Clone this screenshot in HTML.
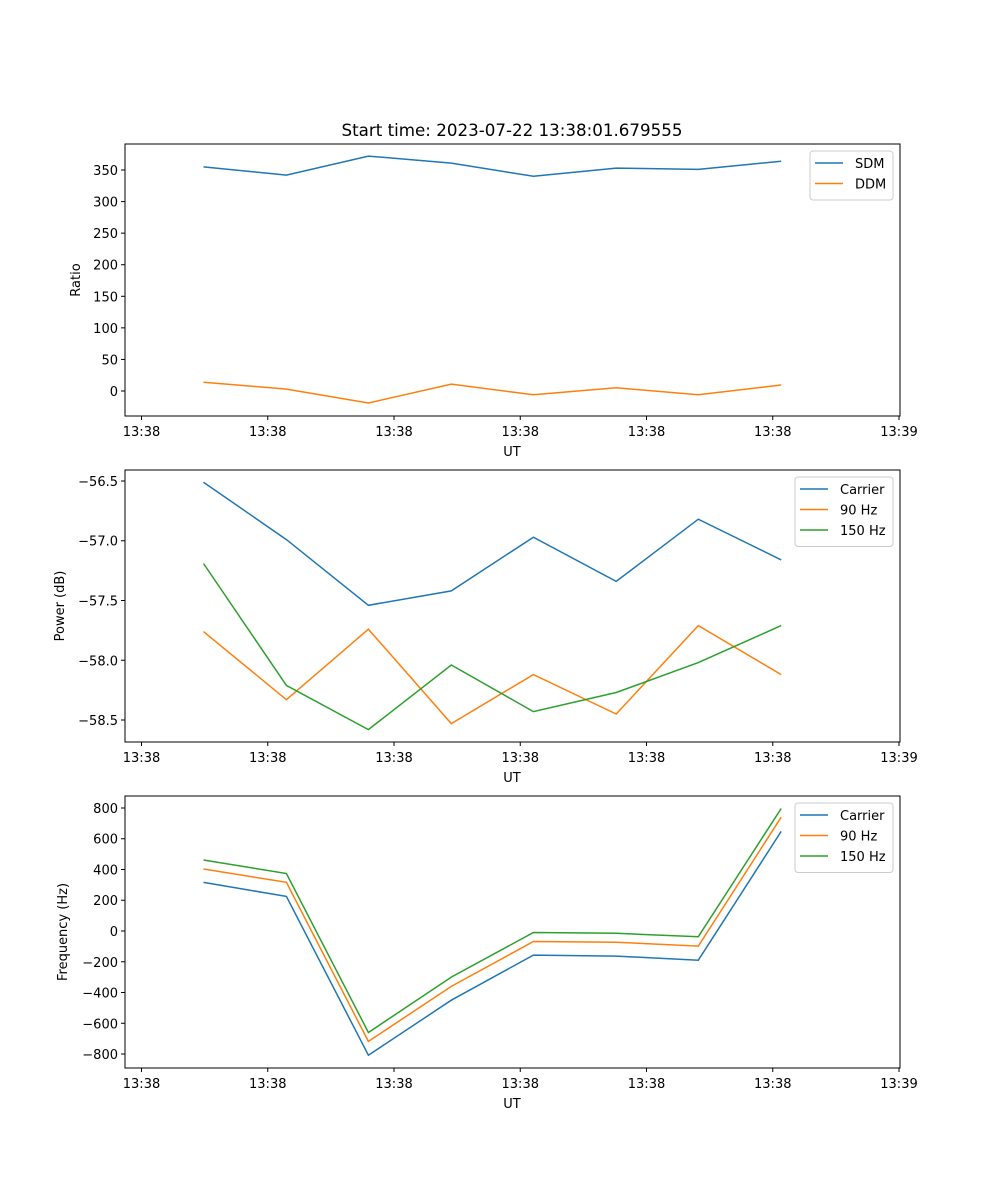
<!DOCTYPE html>
<html><head><meta charset="utf-8"><style>
body{margin:0;background:#fff}
svg{display:block;font-family:"DejaVu Sans","Liberation Sans",sans-serif}
</style></head><body>
<svg id="fig" width="1000" height="1200" viewBox="0 0 1000 1200" xmlns="http://www.w3.org/2000/svg">
<rect width="1000" height="1200" fill="#fff"/>
<text x="512" y="136" font-size="16.7" text-anchor="middle">Start time: 2023-07-22 13:38:01.679555</text>
</svg>
<script>
// times in seconds after 13:38:00
const times = [4.91, 11.48, 17.97, 24.54, 31.04, 37.6, 44.1, 50.67];
const xTickVals = [0, 10, 20, 30, 40, 50, 60];
const xTickLabels = ["13:38","13:38","13:38","13:38","13:38","13:38","13:39"];
const sdm = [355, 342, 372, 361, 340, 353, 351, 364];
const ddm = [14, 3, -19, 11, -6, 5, -6, 9.5];
const pwrCarrier = [-56.51, -56.99, -57.54, -57.42, -56.97, -57.34, -56.82, -57.16];
const pwr90 = [-57.76, -58.33, -57.74, -58.53, -58.12, -58.45, -57.71, -58.12];
const pwr150 = [-57.19, -58.21, -58.58, -58.04, -58.43, -58.27, -58.02, -57.71];
const frqCarrier = [316, 225, -808, -450, -157, -163, -190, 648];
const frq90 = [403, 317, -718, -360, -68, -73, -98, 740];
const frq150 = [462, 374, -660, -300, -10, -15, -37, 797];
const ratioTicks = [0, 50, 100, 150, 200, 250, 300, 350];
const pwrTicks = [-58.5, -58.0, -57.5, -57.0, -56.5];
const frqTicks = [-800, -600, -400, -200, 0, 200, 400, 600, 800];

const NS = "http://www.w3.org/2000/svg";
const svg = document.getElementById('fig');
const C = {blue:"#1f77b4", orange:"#ff7f0e", green:"#2ca02c"};
function mk(tag, attrs, parent){const e=document.createElementNS(NS,tag);for(const k in attrs)e.setAttribute(k,attrs[k]);(parent||svg).appendChild(e);return e;}
const L=125, R=900;
const xScale = t => 141.5 + (t/60)*(899-141.5);

function panel(name, top, bottom, yMin, yMax, yTicks, yFmt, ylabel, series, legend){
  const g = mk('g',{});
  
  
  const ys = v => bottom - (v - yMin)/(yMax - yMin)*(bottom - top);
  series.forEach(s=>{
    const p = mk('polyline',{points:s.vals.map((v,i)=>xScale(times[i]).toFixed(1)+","+ys(v).toFixed(1)).join(" "),fill:"none",stroke:s.color,"stroke-width":1.5},g);
    
    
  });
  const fr = mk('rect',{x:L,y:top,width:R-L,height:bottom-top,fill:"none",stroke:"#000","stroke-width":1},g);
  
  
  xTickVals.forEach((t,i)=>{
    const x=xScale(t);
    mk('line',{x1:x,x2:x,y1:bottom,y2:bottom+4,stroke:"#000"},g);
    const tx=mk('text',{x:x,y:bottom+20,"font-size":13,"text-anchor":"middle"},g);
    tx.textContent=xTickLabels[i];
    
    
  });
  const xl=mk('text',{x:512,y:bottom+40,"font-size":13,"text-anchor":"middle"},g);
  xl.textContent="UT";
  
  
  yTicks.forEach(v=>{
    const y=ys(v);
    mk('line',{x1:L-4,x2:L,y1:y,y2:y,stroke:"#000"},g);
    const tx=mk('text',{x:L-7,y:y+5,"font-size":13,"text-anchor":"end"},g);
    tx.textContent=yFmt(v);
    
    
  });
  const yl=mk('text',{x:0,y:0,"font-size":13,"text-anchor":"middle",transform:`translate(${legend.ylx},${(top+bottom)/2}) rotate(-90)`},g);
  yl.textContent=ylabel;
  
  
  const lg=mk('g',{},g);
  
  
  mk('rect',{x:legend.x,y:top+7,width:R-7-legend.x,height:series.length*20.5+8,rx:3,fill:"#fff","fill-opacity":0.8,stroke:"#ccc"},lg);
  series.forEach((s,i)=>{
    const y=top+19+i*20.5;
    mk('line',{x1:legend.x+5,x2:legend.x+33,y1:y,y2:y,stroke:s.color,"stroke-width":1.5},lg);
    const t=mk('text',{x:legend.x+45,y:y+5,"font-size":13},lg);
    t.textContent=s.label;
    
    
  });
}
const minus = s => s.replace('-', '\u2212');
panel('ratio',144,416,-39.6,391.2,ratioTicks,v=>minus(String(v)),"Ratio",
  [{key:'sdm',label:'SDM',vals:sdm,color:C.blue},{key:'ddm',label:'DDM',vals:ddm,color:C.orange}],{x:810,ylx:80});
panel('power',470,742,-58.684,-56.408,pwrTicks,v=>minus(v.toFixed(1)),"Power (dB)",
  [{key:'carrier',label:'Carrier',vals:pwrCarrier,color:C.blue},{key:'90hz',label:'90 Hz',vals:pwr90,color:C.orange},{key:'150hz',label:'150 Hz',vals:pwr150,color:C.green}],{x:795,ylx:64});
panel('frequency',796,1068,-891,878,frqTicks,v=>minus(String(v)),"Frequency (Hz)",
  [{key:'carrier',label:'Carrier',vals:frqCarrier,color:C.blue},{key:'90hz',label:'90 Hz',vals:frq90,color:C.orange},{key:'150hz',label:'150 Hz',vals:frq150,color:C.green}],{x:795,ylx:67});
</script>
</body></html>
